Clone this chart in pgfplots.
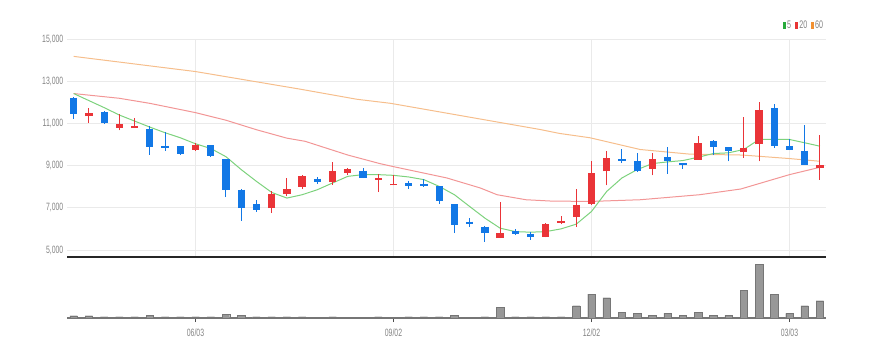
\documentclass[border=0pt]{standalone}
\usepackage{fontspec}
\setmainfont{Liberation Sans}[FakeStretch=0.65]
\usepackage{pgfplots}
\pgfplotsset{compat=1.18}
\usepackage{pgfplotstable}

\definecolor{cred}{RGB}{234,52,56}
\definecolor{cblue}{RGB}{18,120,230}
\definecolor{ma5}{RGB}{125,210,125}
\definecolor{ma20}{RGB}{242,150,150}
\definecolor{ma60}{RGB}{246,190,140}
\definecolor{lg5}{RGB}{40,170,60}
\definecolor{lg20}{RGB}{232,52,52}
\definecolor{lg60}{RGB}{242,145,50}
\definecolor{gridc}{RGB}{234,234,234}
\definecolor{lbl}{RGB}{130,130,130}
\definecolor{volf}{RGB}{152,152,152}
\definecolor{vold}{RGB}{118,118,118}

\pgfplotstableread{
x o c h l
1 11348 11491 11748 11033
3 10795 10986 11462 10667
4 10776 10871 11271 10776
8 9762 9967 10081 9714
13 6984 7652 7810 6746
14 7652 7905 8414 7538
15 8000 8490 8571 7905
17 8224 8730 9157 8095
18 8652 8857 8890 8571
20 8319 8414 8605 7748
21 8062 8143 8538 8062
28 5557 5795 7271 5557
31 5633 6250 6300 5600
32 6300 6395 6619 6224
33 6571 7143 7905 6110
34 7190 8652 9238 7143
35 8729 9367 9681 8062
38 8857 9300 9605 8538
41 9286 10048 10395 9286
44 9652 9843 11319 9367
45 10000 11619 12014 9205
49 8890 9014 10443 8333
}\up

\pgfplotstableread{
x o c h l
0 12224 11429 12260 11224
2 11524 11014 11590 10986
5 10714 9890 10871 9524
6 9938 9843 10586 9714
7 9921 9571 9950 9524
9 9967 9476 9990 9429
10 9310 7824 9330 7510
11 7857 6984 7880 6381
12 7176 6905 7367 6810
16 8381 8224 8443 8129
19 8762 8414 8890 8400
22 8157 8014 8252 7905
23 8129 8014 8381 8000
24 8014 7300 8040 7190
25 7176 6190 7190 5795
26 6348 6252 6538 6110
27 6110 5824 6130 5395
29 5919 5748 6000 5700
30 5748 5633 5843 5476
36 9300 9224 9795 9129
37 9238 8729 9605 8700
39 9395 9238 9871 8605
40 9110 9048 9130 8857
42 10157 9871 10200 9524
43 9871 9714 9900 9205
46 11714 9919 11938 9843
47 9919 9762 10238 9740
48 9714 9048 10919 9030
}\down

\begin{document}
\begin{tikzpicture}
\path (0pt,0pt) rectangle (869pt,357pt);

\begin{axis}[
  at={(67pt,100pt)}, anchor=south west,
  width=759pt, height=218pt, scale only axis,
  xmin=-0.44, xmax=49.4, ymin=4667, ymax=15000,
  scaled ticks=false,
  axis x line*=bottom, axis y line*=left,
  x axis line style={black!85, line width=2pt},
  y axis line style={draw=none},
  xtick={8,21,34,47}, xticklabels={},
  ytick={5000,7000,9000,11000,13000,15000},
  yticklabels={{5,000},{7,000},{9,000},{11,000},{13,000},{15,000}},
  xmajorgrids, ymajorgrids,
  grid style={gridc, line width=0.8pt},
  major tick length=0pt, tick style={draw=none},
  yticklabel style={font=\fontsize{10.6}{12}\selectfont, text=lbl, anchor=east, inner sep=0pt, xshift=-3.5pt},
]
% moving averages
\addplot[ma60, line width=1pt, mark=none] coordinates {
(0,14176) (8,13457) (14.9,12619) (18.6,12143) (20.8,11952) (30.6,10714) (31.9,10524) (33.9,10319) (37.2,9762) (40.5,9540) (43.9,9500) (47,9333) (49,9205)};
\addplot[ma20, line width=1pt, mark=none] coordinates {
(0,12414) (3,12190) (5,11950) (8,11510) (10,11150) (12,10700) (14,10300) (15.2,10150) (18,9500) (20.1,9095) (21,8950) (24.5,8414) (26.7,7938) (27.8,7619) (29.7,7381) (31.3,7320) (33.9,7300) (37.2,7381) (41.1,7619) (43.8,7890) (45.5,8252) (47,8571) (49,8919)};
\addplot[ma5, line width=1pt, mark=none] coordinates {
(0,12414) (1,12080) (2,11748) (3,11395) (4,11110) (5,10824) (6,10557) (7,10319) (8,10033) (9,9810)
(10,9420) (11,8810) (12,8252) (13,7729) (14,7460) (15,7619) (16,7857) (17,8176) (18,8490) (19,8571)
(20,8571) (21,8538) (22,8460) (23,8333) (24,8014) (25,7619) (26,7062) (27,6510) (28,6033) (29,5871)
(30,5843) (31,5871) (32,6000) (33,6224) (34,6824) (35,7776) (36,8414) (37,8810) (38,9095) (39,9176)
(40,9238) (41,9395) (42,9571) (43,9605) (44,9762) (45,10238) (46,10238) (47,10238) (48,10081) (49,9919)};
% wicks
\addplot[cred, line width=1pt, quiver={u=0, v=\thisrow{h}-\thisrow{l}}] table[x=x, y=l] {\up};
\addplot[cblue, line width=1pt, quiver={u=0, v=\thisrow{h}-\thisrow{l}}] table[x=x, y=l] {\down};
% bodies
\addplot[cred, line width=7.3pt, quiver={u=0, v=\thisrow{c}-\thisrow{o}}] table[x=x, y=o] {\up};
\addplot[cblue, line width=7.3pt, quiver={u=0, v=\thisrow{c}-\thisrow{o}}] table[x=x, y=o] {\down};
\end{axis}

\begin{axis}[
  at={(67pt,39pt)}, anchor=south west,
  width=759pt, height=61pt, scale only axis,
  xmin=-0.44, xmax=49.4, ymin=0, ymax=61,
  scaled ticks=false,
  axis x line*=bottom, axis y line=none,
  x axis line style={vold, line width=2.2pt},
  xtick={8,21,34,47}, xticklabels={06/03,09/02,12/02,03/03},
  tick align=outside, major tick length=4pt,
  xtick style={black!70, line width=0.8pt},
  xticklabel style={font=\fontsize{10.6}{12}\selectfont, text=lbl, anchor=north, inner sep=0pt, yshift=-7pt},
  ybar, bar width=7.5pt, bar shift=0pt,
]
\addplot[fill=volf, draw=vold, line width=0.4pt] coordinates {
(0,2.3) (1,2.3) (2,1.3) (3,1.3) (4,1.3) (5,2.5) (6,1.3) (7,1.3) (8,1.3) (9,1.3)
(10,3.5) (11,2.5) (12,1.3) (13,1.3) (14,1.3) (15,1.3) (16,0.5) (17,1.3) (18,0.5) (19,0.5)
(20,1.3) (21,0.5) (22,1.3) (23,1.3) (24,1.3) (25,3) (26,0.5) (27,1.3) (28,10.7) (29,1.3)
(30,1.3) (31,1.3) (32,1.3) (33,12.3) (34,24) (35,20.3) (36,6) (37,4.7) (38,3) (39,5)
(40,2.7) (41,6) (42,2.7) (43,2.7) (44,27.7) (45,53.7) (46,24) (47,4.7) (48,12.3) (49,17.3)};
\end{axis}

\node[anchor=west, inner sep=0pt, font=\fontsize{11}{12}\selectfont, text=lbl] at (782.5pt,332pt)
 {\textcolor{lg5}{\rule{2.8pt}{6.8pt}}\hspace{1.5pt}5\hspace{4pt}\textcolor{lg20}{\rule{2.8pt}{6.8pt}}\hspace{1.5pt}20\hspace{3.5pt}\textcolor{lg60}{\rule{2.8pt}{6.8pt}}\hspace{1.5pt}60};
\end{tikzpicture}
\end{document}
